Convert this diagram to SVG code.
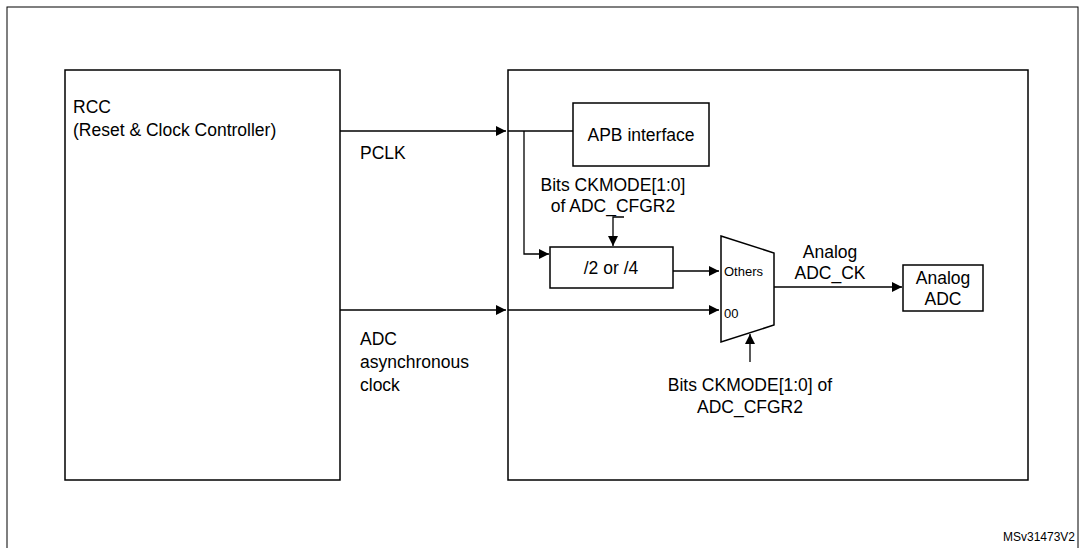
<svg xmlns="http://www.w3.org/2000/svg" width="1085" height="548" viewBox="0 0 1085 548">
<style>
.b{fill:#fff;stroke:#000;stroke-width:1.5}
.l{fill:none;stroke:#000;stroke-width:1.3}
text{font-family:"Liberation Sans",Arial,sans-serif;font-size:17.5px;fill:#000}
.m{text-anchor:middle}
</style>
<defs><marker id="a" viewBox="0 0 10 10" refX="10" refY="5" markerWidth="10" markerHeight="10" markerUnits="userSpaceOnUse" orient="auto"><path d="M0,0 L10,5 L0,10 z" fill="#000"/></marker></defs>
<rect x="0" y="0" width="1085" height="548" fill="#fff"/>
<rect x="7" y="7" width="1071" height="560" fill="none" stroke="#000" stroke-width="1"/>
<g id="rcc"><rect class="b" x="65" y="70" width="275" height="410"/>
<text x="73" y="113">RCC</text><text x="73" y="136">(Reset &amp; Clock Controller)</text></g>
<g id="adcblock"><rect class="b" x="508" y="70" width="520" height="410"/></g>
<g id="apb"><rect class="b" x="573" y="103" width="136" height="63"/><text class="m" x="641" y="141">APB interface</text></g>
<g id="div"><rect class="b" x="550" y="247" width="123" height="41"/><text class="m" x="611" y="274">/2 or /4</text></g>
<g id="mux"><path class="b" d="M721,236 L774,253 L774,325 L721,342 Z"/>
<text x="724" y="276" style="font-size:13px">Others</text><text x="724" y="318" style="font-size:13px">00</text></g>
<g id="analog"><rect class="b" x="903" y="265" width="80" height="46"/><text class="m" x="943" y="284">Analog</text><text class="m" x="943" y="305">ADC</text></g>
<g id="connectors">
<path class="l" d="M340,131 L506,131" marker-end="url(#a)"/>
<path class="l" d="M508,131 L573,131"/>
<path class="l" d="M524,131 L524,254 L549,254" marker-end="url(#a)"/>
<path class="l" d="M624,217 L613,217 L613,246" marker-end="url(#a)"/>
<path class="l" d="M673,271 L719,271" marker-end="url(#a)"/>
<path class="l" d="M340,310 L506,310" marker-end="url(#a)"/>
<path class="l" d="M508,310 L719,310" marker-end="url(#a)"/>
<path class="l" d="M774,287 L902,287" marker-end="url(#a)"/>
<path class="l" d="M750,362 L750,334" marker-end="url(#a)"/>
</g>
<text x="360" y="159">PCLK</text>
<text class="m" x="613" y="191">Bits CKMODE[1:0]</text>
<text class="m" x="613" y="212">of ADC_CFGR2</text>
<text class="m" x="830" y="258">Analog</text>
<text class="m" x="830" y="279">ADC_CK</text>
<text x="360" y="345">ADC</text><text x="360" y="368">asynchronous</text><text x="360" y="391">clock</text>
<text class="m" x="750" y="391">Bits CKMODE[1:0] of</text>
<text class="m" x="750" y="413">ADC_CFGR2</text>
<text x="1075" y="541" text-anchor="end" style="font-size:12px">MSv31473V2</text>
</svg>
